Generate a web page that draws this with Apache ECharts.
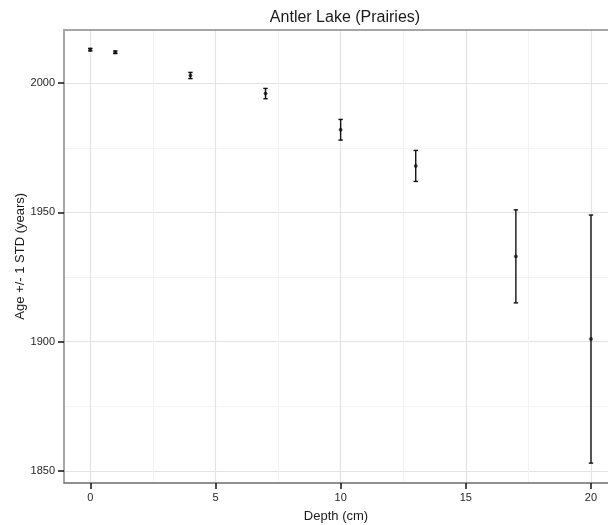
<!DOCTYPE html>
<html>
<head>
<meta charset="utf-8">
<script src="https://cdn.jsdelivr.net/npm/echarts@6/dist/echarts.min.js"></script>
<style>
  html, body { margin: 0; padding: 0; background: #fff; }
  #chart { width: 608px; height: 525px; }
</style>
</head>
<body>
<div id="chart"></div>
<script>
// Antler Lake core: depth (cm), age estimate and one standard deviation
const depth = [0, 1, 4, 7, 10, 13, 17, 20];
const age = [2013, 2012, 2003, 1996, 1982, 1968, 1933, 1901];
const ageStd = [0.5, 0.5, 1.2, 2, 4, 6, 18, 48];

// Axis tick positions
const xMajorTicks = [0, 5, 10, 15, 20];
const xMinorTicks = [2.5, 7.5, 12.5, 17.5];
const yMajorTicks = [1850, 1900, 1950, 2000];
const yMinorTicks = [1875, 1925, 1975];

const FONT = "'Liberation Sans', Arial, sans-serif";
const X_RANGE = [-1.05, 20.68];
const Y_RANGE = [1845.3, 2020.8];

const points = depth.map((d, i) => [d, age[i]]);
const bars = depth.map((d, i) => [d, age[i] - ageStd[i], age[i] + ageStd[i]]);

const chart = echarts.init(document.getElementById('chart'), null, { renderer: 'canvas' });

chart.setOption({
  animation: false,
  backgroundColor: '#ffffff',
  title: {
    text: 'Antler Lake (Prairies)',
    left: 340,
    top: 5,
    textAlign: 'center',
    textStyle: { fontFamily: FONT, fontSize: 16, fontWeight: 'normal', color: '#1a1a1a' }
  },
  grid: {
    left: 64, right: 0, top: 29.5, bottom: 42,
    outerBoundsMode: 'none', containLabel: false
  },
  xAxis: [
    {
      type: 'value', min: X_RANGE[0], max: X_RANGE[1],
      name: 'Depth (cm)', nameLocation: 'middle', nameGap: 27, nameMoveOverlap: false,
      nameTextStyle: { fontFamily: FONT, fontSize: 13, color: '#1a1a1a' },
      axisLine: { show: true, onZero: false, lineStyle: { color: '#6e6e6e', width: 1.5 } },
      axisTick: { show: true, length: 6, customValues: xMajorTicks, lineStyle: { color: '#111', width: 1.5 } },
      axisLabel: { customValues: xMajorTicks, margin: 9, fontFamily: FONT, fontSize: 11, color: '#262626' },
      splitLine: { show: true, lineStyle: { color: '#e3e3e3', width: 1.2 } }
    },
    {
      // minor grid lines; its line also closes the panel at the top
      type: 'value', min: X_RANGE[0], max: X_RANGE[1], position: 'top',
      axisLine: { show: true, onZero: false, lineStyle: { color: '#a6a6a6', width: 2 } },
      axisTick: { show: false, customValues: xMinorTicks },
      axisLabel: { show: false, customValues: xMinorTicks },
      splitLine: { show: true, lineStyle: { color: '#f3f3f3', width: 1 } }
    }
  ],
  yAxis: [
    {
      type: 'value', min: Y_RANGE[0], max: Y_RANGE[1],
      name: 'Age +/- 1 STD (years)', nameLocation: 'middle', nameGap: 37, nameRotate: 90,
      nameMoveOverlap: false,
      nameTextStyle: { fontFamily: FONT, fontSize: 13, color: '#1a1a1a' },
      axisLine: { show: true, onZero: false, lineStyle: { color: '#8a8a8a', width: 1.5 } },
      axisTick: { show: true, length: 6, customValues: yMajorTicks, lineStyle: { color: '#111', width: 1.5 } },
      axisLabel: {
        customValues: yMajorTicks, margin: 9, fontFamily: FONT, fontSize: 11, color: '#262626',
        formatter: v => String(v)
      },
      splitLine: { show: true, lineStyle: { color: '#e3e3e3', width: 1.2 } }
    },
    {
      type: 'value', min: Y_RANGE[0], max: Y_RANGE[1], position: 'left',
      axisLine: { show: false },
      axisTick: { show: false, customValues: yMinorTicks },
      axisLabel: { show: false, customValues: yMinorTicks },
      splitLine: { show: true, lineStyle: { color: '#f3f3f3', width: 1 } }
    }
  ],
  series: [
    {
      // vertical error bars with short caps
      type: 'custom',
      xAxisIndex: 0, yAxisIndex: 0,
      data: bars,
      z: 3,
      renderItem: function (params, api) {
        const x = api.value(0);
        const lo = api.coord([x, api.value(1)]);
        const hi = api.coord([x, api.value(2)]);
        const cap = 2.2;
        const style = { stroke: '#111', lineWidth: 1.4, fill: null };
        return {
          type: 'group',
          children: [
            { type: 'line', shape: { x1: lo[0], y1: lo[1], x2: hi[0], y2: hi[1] }, style: style },
            { type: 'line', shape: { x1: lo[0] - cap, y1: lo[1], x2: lo[0] + cap, y2: lo[1] }, style: style },
            { type: 'line', shape: { x1: hi[0] - cap, y1: hi[1], x2: hi[0] + cap, y2: hi[1] }, style: style }
          ]
        };
      }
    },
    {
      type: 'scatter',
      xAxisIndex: 0, yAxisIndex: 0,
      data: points,
      symbol: 'circle',
      symbolSize: 3.5,
      itemStyle: { color: '#111', borderColor: 'rgba(0,0,0,0.25)', borderWidth: 1 },
      z: 4
    }
  ]
});
</script>
</body>
</html>
